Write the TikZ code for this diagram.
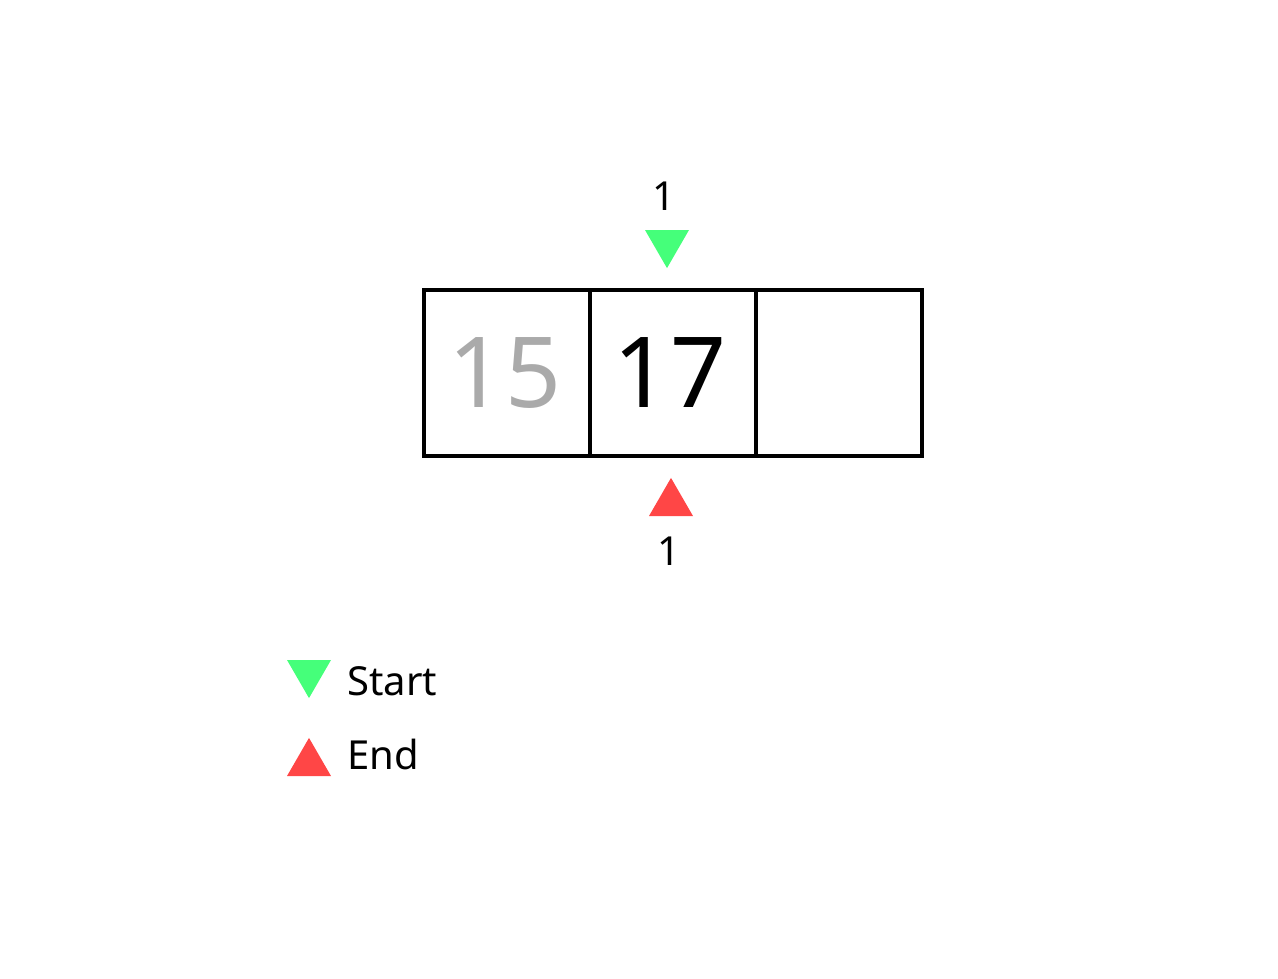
\documentclass[tikz,border=0pt]{standalone}
\usepackage{fontspec}
\setmainfont{Noto Sans}
\usetikzlibrary{positioning,shapes.geometric}

\definecolor{startgreen}{HTML}{45FF7A}
\definecolor{endred}{HTML}{FF4646}
\definecolor{oldgrey}{HTML}{AAAAAA}

\begin{document}
\begin{tikzpicture}[
    x=1pt, y=-1pt,
    every cell/.style={
        rectangle,
        draw,
        line width=3.6pt,
        minimum size=166pt,
        inner sep=0pt
    },
    cell value/.style={
        anchor=base,
        font=\fontsize{98}{98}\selectfont
    },
    marker/.style={
        regular polygon,
        regular polygon sides=3,
        minimum size=50.8pt,
        inner sep=0pt,
        draw=none
    },
    start marker/.style={
        marker,
        fill=startgreen,
        shape border rotate=180
    },
    end marker/.style={
        marker,
        fill=endred
    },
    label text/.style={
        inner sep=0pt,
        font=\fontsize{40}{40}\selectfont
    }
]
\useasboundingbox (0,0) rectangle (1278,978);

% Cells
\foreach \i in {1,2,3}
    \node [every cell/.try] (cell-\i) at (341+\i*166,373) {};

\node [cell value, text=oldgrey] (val-1) at (505,407) {15};
\node [cell value] (val-2) at (670,407) {17};

% Start pointer
\node [start marker] (start-mark) at (667,242.7) {};
\node [label text, anchor=base] (start-idx) at (664,210) {1};

% End pointer
\node [end marker] (end-mark) at (671,503.3) {};
\node [label text, anchor=base] (end-idx) at (669,565) {1};

% Legend
\node [start marker] (legend-start) at (309,672.7) {};
\node [label text, anchor=base west] (legend-start-text) at (347,695) {Start};

\node [end marker] (legend-end) at (309,763.3) {};
\node [label text, anchor=base west] (legend-end-text) at (347,769) {End};

\end{tikzpicture}
\end{document}
